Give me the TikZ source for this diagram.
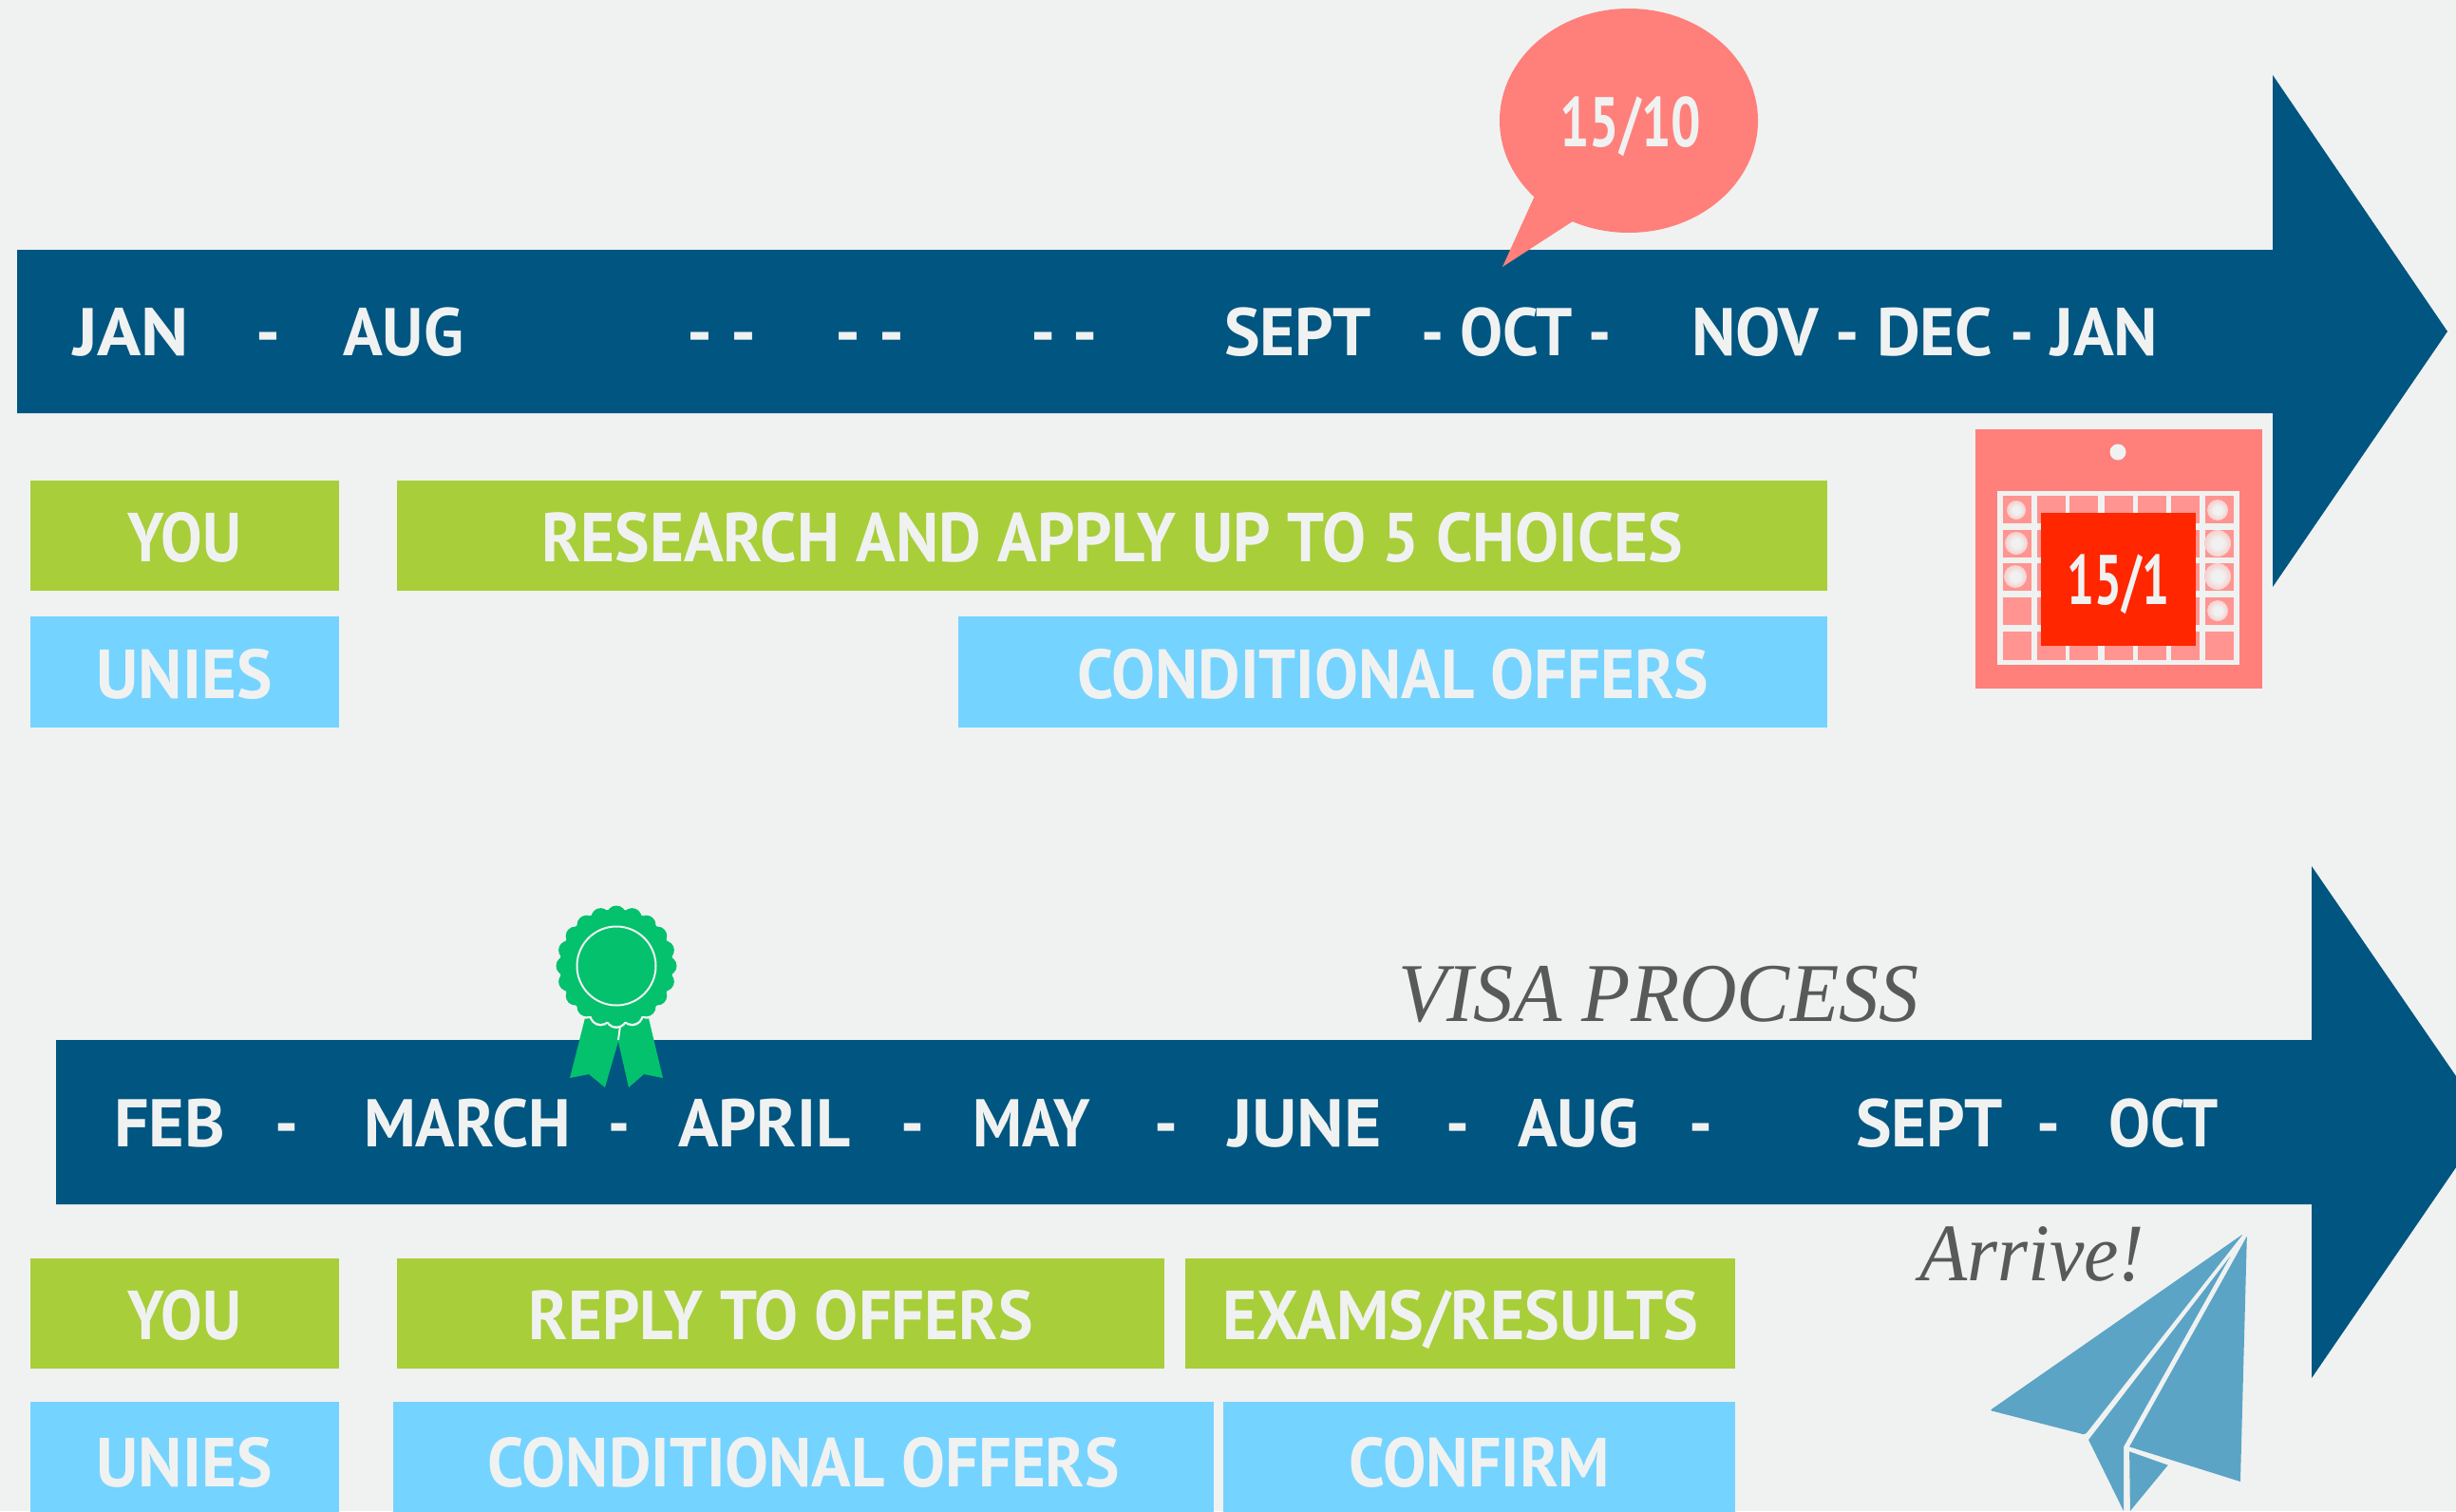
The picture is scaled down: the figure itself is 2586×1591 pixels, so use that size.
\documentclass[tikz,border=0pt]{standalone}
\usepackage{fontspec}
\usepackage{graphicx}
\setmainfont{PT Sans}
\newfontfamily\serifit{Liberation Serif}
\definecolor{bgc}{HTML}{F0F2F1}
\definecolor{navy}{HTML}{005581}
\definecolor{lime}{HTML}{A8CE3A}
\definecolor{sky}{HTML}{75D3FF}
\definecolor{salmon}{HTML}{FF7F7B}
\definecolor{redc}{HTML}{FF2600}
\definecolor{rose}{HTML}{03C16D}
\definecolor{planec}{HTML}{5BA4C6}
\definecolor{cellc}{HTML}{FF9490}
\pgfdeclareradialshading{dotglow}{\pgfpoint{0bp}{0bp}}{color(0bp)=(bgc);color(10bp)=(bgc);color(50bp)=(cellc)}
\newcommand\fitw[2]{\resizebox{#1pt}{\height}{#2}}
\tikzset{
  x=1pt,y=-1pt,
  lab/.style={text=bgc,font=\fontsize{71}{71}\selectfont\bfseries,inner sep=0pt,anchor=base west},
  tbox/.style={inner sep=0pt,anchor=north west,text=bgc,font=\fontsize{73}{73}\selectfont\bfseries,text height=55pt,text depth=0pt},
  youbox/.style={tbox,fill=lime},
  unibox/.style={tbox,fill=sky},
  script/.style={text=black!65,inner sep=0pt,anchor=base west},
}
\begin{document}
\begin{tikzpicture}
\useasboundingbox (0,0) rectangle (2586,1591);
\clip (0,0) rectangle (2586,1591);
\fill[bgc] (0,0) rectangle (2586,1591);
% arrows
\fill[navy] (18,263) -- (2393,263) -- (2393,79) -- (2577,349) -- (2393,618) -- (2393,435) -- (18,435) -- cycle;
\fill[navy] (59,1095) -- (2434,1095) -- (2434,912) -- (2619,1181) -- (2434,1451) -- (2434,1268) -- (59,1268) -- cycle;
% row 1 labels
\node[lab] (t1) at (77,374) {\fitw{122}{JAN}};
\node[lab] (t2) at (269,374) {\fitw{26}{-}};
\node[lab] (t3) at (361,374) {\fitw{127}{AUG}};
\node[lab] (t4) at (723,374) {\fitw{73}{- -}};
\node[lab] (t5) at (879,374) {\fitw{73}{- -}};
\node[lab] (t6) at (1085,374) {\fitw{71}{- -}};
\node[lab] (t7) at (1289,374) {\fitw{155}{SEPT}};
\node[lab] (t8) at (1496,374) {\fitw{201}{- OCT -}};
\node[lab] (t9) at (1781,374) {\fitw{491}{NOV - DEC - JAN}};
% row 2 labels
\node[lab] (u1) at (120,1207) {\fitw{117}{FEB}};
\node[lab] (u2) at (289,1207) {\fitw{25}{-}};
\node[lab] (u3) at (383,1207) {\fitw{218}{MARCH}};
\node[lab] (u4) at (640,1207) {\fitw{23}{-}};
\node[lab] (u5) at (714,1207) {\fitw{181}{APRIL}};
\node[lab] (u6) at (948,1207) {\fitw{25}{-}};
\node[lab] (u7) at (1024,1207) {\fitw{124}{MAY}};
\node[lab] (u8) at (1215,1207) {\fitw{25}{-}};
\node[lab] (u9) at (1293,1207) {\fitw{162}{JUNE}};
\node[lab] (u10) at (1522,1207) {\fitw{25}{-}};
\node[lab] (u11) at (1598,1207) {\fitw{127}{AUG}};
\node[lab] (u12) at (1778,1207) {\fitw{25}{-}};
\node[lab] (u13) at (1954,1207) {\fitw{155}{SEPT}};
\node[lab] (u14) at (2144,1207) {\fitw{25}{-}};
\node[lab] (u15) at (2220,1207) {\fitw{115}{OCT}};
% boxes
\node[youbox,minimum width=325pt,minimum height=116pt] (y1) at (31.5,506) {\fitw{120}{YOU}};
\node[youbox,minimum width=1506pt,minimum height=116pt] (r1) at (418,506) {\fitw{1202}{RESEARCH AND APPLY UP TO 5 CHOICES}};
\node[unibox,minimum width=325pt,minimum height=117pt] (n1) at (31.5,649) {\fitw{185}{UNIES}};
\node[unibox,minimum width=915pt,minimum height=117pt] (c1) at (1009,649) {\fitw{665}{CONDITIONAL OFFERS}};
\node[youbox,minimum width=325pt,minimum height=116pt] (y2) at (31.5,1325) {\fitw{120}{YOU}};
\node[youbox,minimum width=808pt,minimum height=116pt] (r2) at (418,1325) {\fitw{531}{REPLY TO OFFERS}};
\node[youbox,minimum width=579pt,minimum height=116pt] (e2) at (1248,1325) {\fitw{501}{EXAMS/RESULTS}};
\node[unibox,minimum width=325pt,minimum height=124pt] (n2) at (31.5,1476) {\fitw{185}{UNIES}};
\node[unibox,minimum width=864pt,minimum height=124pt] (c2) at (414,1476) {\fitw{665}{CONDITIONAL OFFERS}};
\node[unibox,minimum width=539pt,minimum height=124pt] (f2) at (1288,1476) {\fitw{275}{CONFIRM}};
% speech bubble
\fill[salmon] (1715,127) ellipse [x radius=136, y radius=118];
\fill[salmon] (1616,206) -- (1582,281) -- (1656,233) -- (1680,200) -- cycle;
\node[text=bgc,font=\fontsize{74}{74}\selectfont\bfseries,inner sep=0pt,anchor=base west] (b1) at (1642,154) {\fitw{149}{15/10}};
% calendar
\fill[salmon] (2080,452) rectangle (2382,725);
\fill[bgc] (2230,476) circle (8.5);
\fill[bgc] (2103,517) rectangle (2358,700);
\foreach \xa/\xb in {2109/2139,2145/2175,2179/2209,2216/2246,2251/2281,2286/2316,2322/2352}
  \foreach \ya/\yb in {522/551,558/587,593/622,629/658,665/695}
    \fill[cellc] (\xa,\ya) rectangle (\xb,\yb);
\foreach \cx/\cy/\r in {2123/537/10,2123/572/12,2122/607/12,2335/537/11,2335/572/14,2335/607/14,2335/643/11}
  \shade[shading=dotglow] (\cx,\cy) circle (\r);
\node[fill=redc,inner sep=0pt,minimum width=163pt,minimum height=140pt,text=bgc,font=\fontsize{74}{74}\selectfont\bfseries,anchor=north west,text height=52pt,text depth=0pt] (cal) at (2149,540) {\fitw{108}{15/1}};
% rosette
\fill[rose] (617,1068) -- (600,1135) -- (620,1131) -- (637,1145) -- (652,1093) -- (652,1068) -- cycle;
\fill[rose] (682,1068) -- (698,1135) -- (678,1131) -- (662,1145) -- (651,1097) -- (651,1068) -- cycle;
\foreach \a in {0,18,...,342}
  \fill[bgc] ({649+54*cos(\a)},{1017+54*sin(\a)}) circle (12);
\fill[bgc] (649,1017) circle (61.5);
\foreach \a in {0,18,...,342}
  \fill[rose] ({649+53.5*cos(\a)},{1017+53.5*sin(\a)}) circle (10);
\fill[rose] (649,1017) circle (59.5);
\draw[bgc,line width=2pt] (649,1017) circle (41.5);
\draw[bgc,line width=2pt] (653,1080) -- (651,1095);
% plane
\begin{scope}[shift={(1950,1260)},xscale=0.4057,yscale=0.3333]
  \fill[planec,rounded corners=2pt] (1015,118) -- (358,675) -- (605,752) -- cycle;
  \fill[planec] (982,188) -- (614,768) -- (705,993) -- (705,790) -- cycle;
  \fill[planec] (1025,125) -- (1008,900) -- (720,790) -- cycle;
  \fill[planec] (720,805) -- (820,848) -- (722,993) -- cycle;
\end{scope}
% captions
\node[script,font=\serifit\itshape\fontsize{88}{88}\selectfont] (visa) at (1472,1075) {\fitw{548}{VISA PROCESS}};
\node[script,font=\serifit\itshape\fontsize{86}{86}\selectfont] (arr) at (2021,1348) {\fitw{237}{Arrive!}};
\end{tikzpicture}
\end{document}
